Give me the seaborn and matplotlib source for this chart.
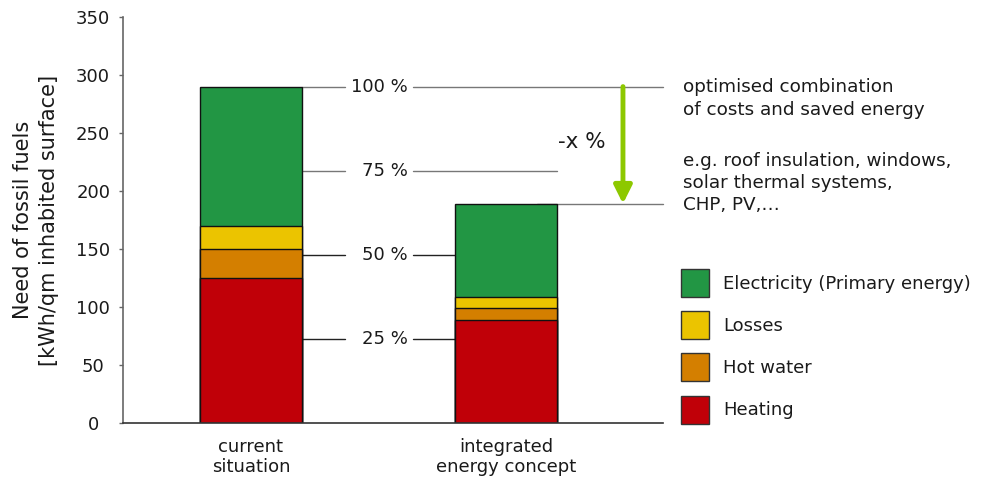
import numpy as np
import pandas as pd
import matplotlib
matplotlib.use("Agg")
import matplotlib.pyplot as plt
from matplotlib.patches import Patch
import seaborn as sns

categories = ["current\nsituation", "integrated\nenergy concept"]
heating = [125, 89]
hot_water = [25, 10]
losses = [20, 10]
electricity = [120, 80]
series_names = ["Heating", "Hot water", "Losses", "Electricity (Primary energy)"]
series_colors = ["#C00008", "#D47F00", "#EBC400", "#229644"]
pct_labels = ["25 %", "50 %", "75 %", "100 %"]
pct_fracs = [0.25, 0.50, 0.75, 1.00]
y_ticks = [0, 50, 100, 150, 200, 250, 300, 350]

sns.set_theme(style="white")
plt.rcParams["font.family"] = ["DejaVu Sans"]
txt = "#1a1a1a"
FS = 13

fig = plt.figure(figsize=(9.86, 4.82), dpi=100)
ax = fig.add_axes([123/986, 1 - 423/482, (663-123)/986, (423-17)/482])

series = [heating, hot_water, losses, electricity]
cum = np.cumsum(np.array(series), axis=0)
df = pd.DataFrame({"cat": categories})
for i in range(len(series) - 1, -1, -1):
    df["val"] = cum[i]
    sns.barplot(data=df, x="cat", y="val", color=series_colors[i], width=0.4,
                edgecolor="#111111", linewidth=1.0, saturation=1, ax=ax, zorder=2)

ax.set_ylim(0, 350)
ax.set_xlim(-0.502, 1.616)
ax.set_yticks(y_ticks)
ax.set_xlabel("")
ax.set_ylabel("Need of fossil fuels\n[kWh/qm inhabited surface]", fontsize=15,
              color=txt, labelpad=12, linespacing=1.4)
ax.tick_params(axis="y", length=3, width=1, color="#666666", labelsize=FS,
               labelcolor=txt, pad=18.5, left=True)
for t in ax.get_yticklabels():
    t.set_horizontalalignment("center")
ax.tick_params(axis="x", length=0, labelsize=FS, labelcolor=txt, pad=11)
for t in ax.get_xticklabels():
    t.set_linespacing(1.15)
for s in ["top", "right"]:
    ax.spines[s].set_visible(False)
ax.spines["left"].set_color("#666666")
ax.spines["bottom"].set_color("#333333")
ax.spines["left"].set_linewidth(1.2)
ax.spines["bottom"].set_linewidth(1.2)

total_cur = cum[-1][0]
total_new = cum[-1][1]
bar_r0 = 0.2
for lab, f in zip(pct_labels, pct_fracs):
    yv = total_cur * f
    col = "#777777" if f >= 0.75 else "#222222"
    if f == 1.0:
        right_end = 1.616
    elif f == 0.75:
        right_end = 1.2
    else:
        right_end = 0.8
    ax.plot([bar_r0, 0.369], [yv, yv], color=col, lw=1.0, zorder=1, clip_on=False)
    ax.plot([0.635, right_end], [yv, yv], color=col, lw=1.0, zorder=1, clip_on=False)
    ax.text(0.616, yv, lab, ha="right", va="center", fontsize=FS, color=txt)

ax.plot([1.12, 1.616], [total_new, total_new], color="#777777", lw=1.0, zorder=1, clip_on=False)

ax.annotate("", xy=(1.459, total_new), xytext=(1.459, total_cur),
            arrowprops=dict(arrowstyle="-|>,head_width=0.45,head_length=0.9",
                            color="#8DC800", lw=3.5, shrinkA=0, shrinkB=0))
ax.text(1.298, 242, "-x %", ha="center", va="center", fontsize=15.5, color=txt)

ax.text(1.694, 279.7, "optimised combination\nof costs and saved energy", ha="left",
        va="center", fontsize=13.2, color=txt, clip_on=False, linespacing=1.3)
ax.text(1.694, 206.9, "e.g. roof insulation, windows,\nsolar thermal systems,\nCHP, PV,\u2026",
        ha="left", va="center", fontsize=13.2, color=txt, clip_on=False, linespacing=1.3)

handles = [Patch(facecolor=series_colors[i], edgecolor="#333333", linewidth=1.0,
                 label=series_names[i]) for i in range(len(series) - 1, -1, -1)]
fig.legend(handles=handles, loc="upper left", bbox_to_anchor=(681/986, 1 - 269/482),
           bbox_transform=fig.transFigure, frameon=False, fontsize=FS,
           handlelength=1.556, handleheight=2.017, labelspacing=0.78,
           handletextpad=0.78, borderpad=0, borderaxespad=0, labelcolor=txt)

fig.savefig("out.png", dpi=100)
